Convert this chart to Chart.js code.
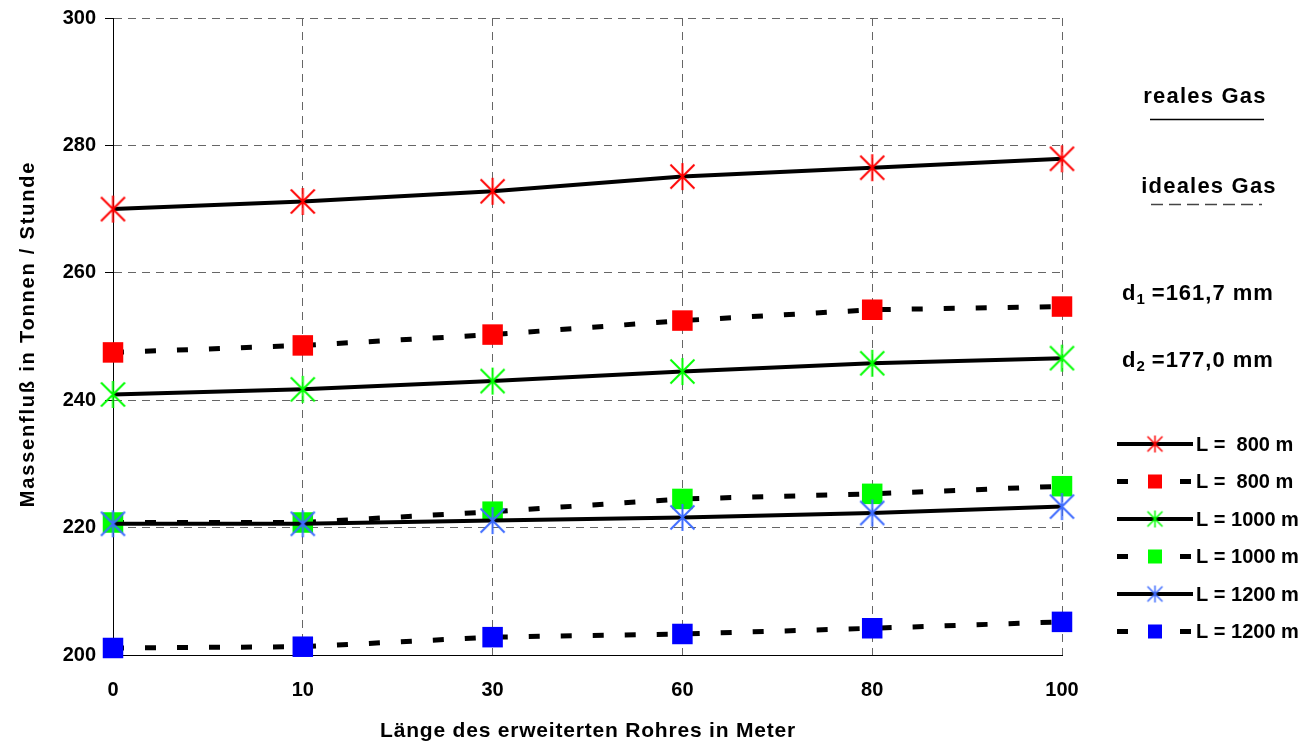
<!DOCTYPE html>
<html>
<head>
<meta charset="utf-8">
<script src="https://cdn.jsdelivr.net/npm/chart.js@4.4.1/dist/chart.umd.min.js"></script>
<style>
  html, body { margin: 0; padding: 0; background: #fff; }
  #chart { display: block; }
</style>
</head>
<body>
<canvas id="chart" width="1315" height="744"></canvas>
<script>
// Kategorien (Länge des erweiterten Rohres)
const categories = ['0', '10', '30', '60', '80', '100'];

// reales Gas
const real800 = [270.0, 271.2, 272.8, 275.1, 276.5, 277.9];
const real1000 = [240.9, 241.7, 243.0, 244.5, 245.8, 246.6];
const real1200 = [220.6, 220.6, 221.1, 221.6, 222.3, 223.3];

// ideales Gas
const ideal800 = [247.5, 248.6, 250.3, 252.5, 254.2, 254.7];
const ideal1000 = [220.8, 220.8, 222.5, 224.5, 225.3, 226.5];
const ideal1200 = [201.1, 201.3, 202.8, 203.3, 204.2, 205.2];

const seriesLabels = ['L =  800 m', 'L =  800 m', 'L = 1000 m', 'L = 1000 m', 'L = 1200 m', 'L = 1200 m'];
const yTicks = [200, 220, 240, 260, 280, 300];

const FONT = '"Liberation Sans", Arial, sans-serif';

// Sternmarker (senkrechter Strich + X) als kleines Canvas
function makeStar(color, r, d, lw) {
    const s = Math.ceil(2 * r + lw + 2);
    const c = document.createElement('canvas');
    c.width = s;
    c.height = s;
    const g = c.getContext('2d');
    const m = s / 2;
    g.strokeStyle = color;
    g.lineWidth = lw;
    g.beginPath();
    g.moveTo(m, m - r);
    g.lineTo(m, m + r);
    g.moveTo(m - d, m - d);
    g.lineTo(m + d, m + d);
    g.moveTo(m + d, m - d);
    g.lineTo(m - d, m + d);
    g.stroke();
    return c;
}

const starRed = makeStar('#ff0000', 13.5, 12, 2);
const starGreen = makeStar('#00ff00', 13.5, 12, 2);
const starBlue = makeStar('#3d6bff', 13.5, 12, 2);

function realSet(label, data, star, idx) {
    return {
        label: label,
        data: data,
        borderColor: '#000',
        borderWidth: 4,
        pointStyle: star,
        pointRadius: 14,
        tension: 0,
        clip: false,
        order: 6 - idx
    };
}

function idealSet(label, data, color, idx) {
    return {
        label: label,
        data: data,
        borderColor: '#000',
        borderWidth: 5,
        borderDash: [11, 21],
        pointStyle: 'rect',
        pointRadius: 14.5,
        pointBackgroundColor: color,
        pointBorderWidth: 0,
        tension: 0,
        clip: false,
        order: 6 - idx
    };
}

// Legende und Texte rechts, Achsentitel
const annotations = {
    id: 'annotations',
    afterDraw(chart) {
        const ctx = chart.ctx;
        ctx.save();
        ctx.fillStyle = '#000';

        // Achsentitel
        ctx.font = 'bold 21px ' + FONT;
        ctx.letterSpacing = '0.8px';
        ctx.textAlign = 'center';
        ctx.textBaseline = 'alphabetic';
        ctx.fillText('Länge des erweiterten Rohres in Meter', 588, 737);

        ctx.save();
        ctx.translate(34, 334);
        ctx.rotate(-Math.PI / 2);
        ctx.font = 'bold 20px ' + FONT;
        ctx.letterSpacing = '1.8px';
        ctx.fillText('Massenfluß in Tonnen / Stunde', 0, 0);
        ctx.restore();

        // reales / ideales Gas
        ctx.font = 'bold 22px ' + FONT;
        ctx.letterSpacing = '1.2px';
        ctx.fillText('reales Gas', 1205, 103);
        ctx.fillText('ideales Gas', 1209, 193);
        ctx.letterSpacing = '0px';

        ctx.strokeStyle = '#000';
        ctx.lineWidth = 1.5;
        ctx.beginPath();
        ctx.moveTo(1150, 119.5);
        ctx.lineTo(1264, 119.5);
        ctx.stroke();

        ctx.strokeStyle = '#444';
        ctx.setLineDash([12, 6]);
        ctx.beginPath();
        ctx.moveTo(1151, 204.5);
        ctx.lineTo(1262, 204.5);
        ctx.stroke();
        ctx.setLineDash([]);

        // Durchmesser
        ctx.textAlign = 'left';
        ctx.letterSpacing = '1px';
        [['1', '=161,7 mm', 300], ['2', '=177,0 mm', 367]].forEach(([sub, txt, y]) => {
            ctx.font = 'bold 22px ' + FONT;
            ctx.fillText('d', 1122, y);
            let x = 1122 + ctx.measureText('d').width;
            ctx.font = 'bold 15px ' + FONT;
            ctx.fillText(sub, x, y + 4);
            x += ctx.measureText(sub).width + 6;
            ctx.font = 'bold 22px ' + FONT;
            ctx.fillText(txt, x, y);
        });

        // Legende
        const stars = [makeStar('#ff0000', 8.5, 7.5, 1.5), makeStar('#00ff00', 8.5, 7.5, 1.5), makeStar('#3d6bff', 8.5, 7.5, 1.5)];
        const squares = ['#ff0000', '#00ff00', '#0000ff'];
        ctx.font = 'bold 20px ' + FONT;
        ctx.letterSpacing = '0px';
        ctx.textBaseline = 'middle';
        seriesLabels.forEach((label, i) => {
            const y = 444 + i * 37.5;
            const k = Math.floor(i / 2);
            ctx.fillStyle = '#000';
            if (i % 2 === 0) {
                ctx.fillRect(1117, y - 2, 76, 4);
                const st = stars[k];
                ctx.drawImage(st, 1155 - st.width / 2, y - st.height / 2);
            } else {
                ctx.fillRect(1117, y - 2.5, 11, 5);
                ctx.fillRect(1180, y - 2.5, 11, 5);
                ctx.fillStyle = squares[k];
                ctx.fillRect(1148, y - 7, 14, 14);
            }
            ctx.fillStyle = '#000';
            ctx.fillText(label, 1196, y + 1);
        });

        ctx.restore();
    }
};

new Chart(document.getElementById('chart').getContext('2d'), {
    type: 'line',
    data: {
        labels: categories,
        datasets: [
            realSet(seriesLabels[0], real800, starRed, 0),
            idealSet(seriesLabels[1], ideal800, '#ff0000', 1),
            realSet(seriesLabels[2], real1000, starGreen, 2),
            idealSet(seriesLabels[3], ideal1000, '#00ff00', 3),
            realSet(seriesLabels[4], real1200, starBlue, 4),
            idealSet(seriesLabels[5], ideal1200, '#0000ff', 5)
        ]
    },
    options: {
        responsive: false,
        animation: false,
        devicePixelRatio: 1,
        layout: { padding: { left: 0, top: 5, right: 253, bottom: 0 } },
        plugins: {
            legend: { display: false },
            tooltip: { enabled: false }
        },
        scales: {
            x: {
                type: 'category',
                offset: false,
                grid: { color: '#666', lineWidth: 1, drawTicks: false },
                border: { display: true, color: '#000', width: 1, dash: [8, 6] },
                ticks: {
                    color: '#000',
                    font: { family: FONT, size: 20, weight: 'bold' },
                    padding: 23,
                    maxRotation: 0
                },
                afterFit: s => { s.height = 89; s.paddingLeft = 0; s.paddingRight = 0; }
            },
            y: {
                min: 200,
                max: 300,
                afterBuildTicks: s => { s.ticks = yTicks.map(v => ({ value: v })); },
                grid: {
                    color: '#666',
                    lineWidth: 1,
                    tickColor: '#000',
                    tickLength: 8,
                    tickWidth: 1,
                    tickBorderDash: []
                },
                border: { display: true, color: '#000', width: 1, dash: [8, 6] },
                ticks: {
                    color: '#000',
                    font: { family: FONT, size: 20, weight: 'bold' },
                    padding: 9
                },
                afterFit: s => { s.width = 113; s.paddingTop = 0; s.paddingBottom = 0; }
            }
        }
    },
    plugins: [annotations]
});
</script>
</body>
</html>
